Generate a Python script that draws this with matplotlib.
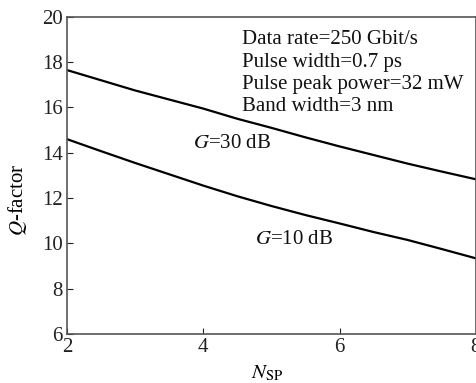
import numpy as np
import matplotlib.pyplot as plt

plt.rcParams['font.family'] = 'Liberation Serif'
plt.rcParams['mathtext.fontset'] = 'stix'

# Q-factor vs N_sp
n_sp = [2, 2.5, 3, 3.5, 4, 4.5, 5, 5.5, 6, 6.5, 7, 7.5, 8]
q_g30 = [17.65, 17.2, 16.75, 16.35, 15.95, 15.5, 15.1, 14.68, 14.28, 13.9, 13.52, 13.17, 12.83]
q_g10 = [14.6, 14.07, 13.55, 13.05, 12.55, 12.08, 11.65, 11.25, 10.88, 10.5, 10.15, 9.75, 9.34]

params = ["Data rate=250 Gbit/s", "Pulse width=0.7 ps",
          "Pulse peak power=32 mW", "Band width=3 nm"]

fig = plt.figure(figsize=(4.77, 3.83), dpi=100)
ax = fig.add_axes([0.1405, 0.128, 0.857, 0.828])

ax.plot(n_sp, q_g30, color='black', lw=1.6)
ax.plot(n_sp, q_g10, color='black', lw=1.6)

ax.set_xlim(2, 8)
ax.set_ylim(6, 20)
ax.set_xticks([2, 4, 6, 8])
ax.set_yticks(np.arange(6, 21, 2))
ax.tick_params(direction='in', length=4, labelsize=15, pad=3, colors='#222222')
for s in ax.spines.values():
    s.set_linewidth(1.2)
    s.set_color('#555555')

ax.set_xlabel(r'$N_{\mathrm{SP}}$', fontsize=15)
ax.set_ylabel(r'$Q$-factor', fontsize=15)
ax.xaxis.set_label_coords(0.49, -0.092)
ax.yaxis.set_label_coords(-0.093, 0.423)

ax.text(0.428, 0.957, "\n".join(params), transform=ax.transAxes,
        fontsize=15, va='top', ha='left', linespacing=1.22, color='#111111')
ax.text(3.85, 14.4, r'$G$=30 dB', fontsize=15, va='center', color='#111111')
ax.text(4.76, 10.15, r'$G$=10 dB', fontsize=15, va='center', color='#111111')

fig.savefig('out.png', dpi=100)
